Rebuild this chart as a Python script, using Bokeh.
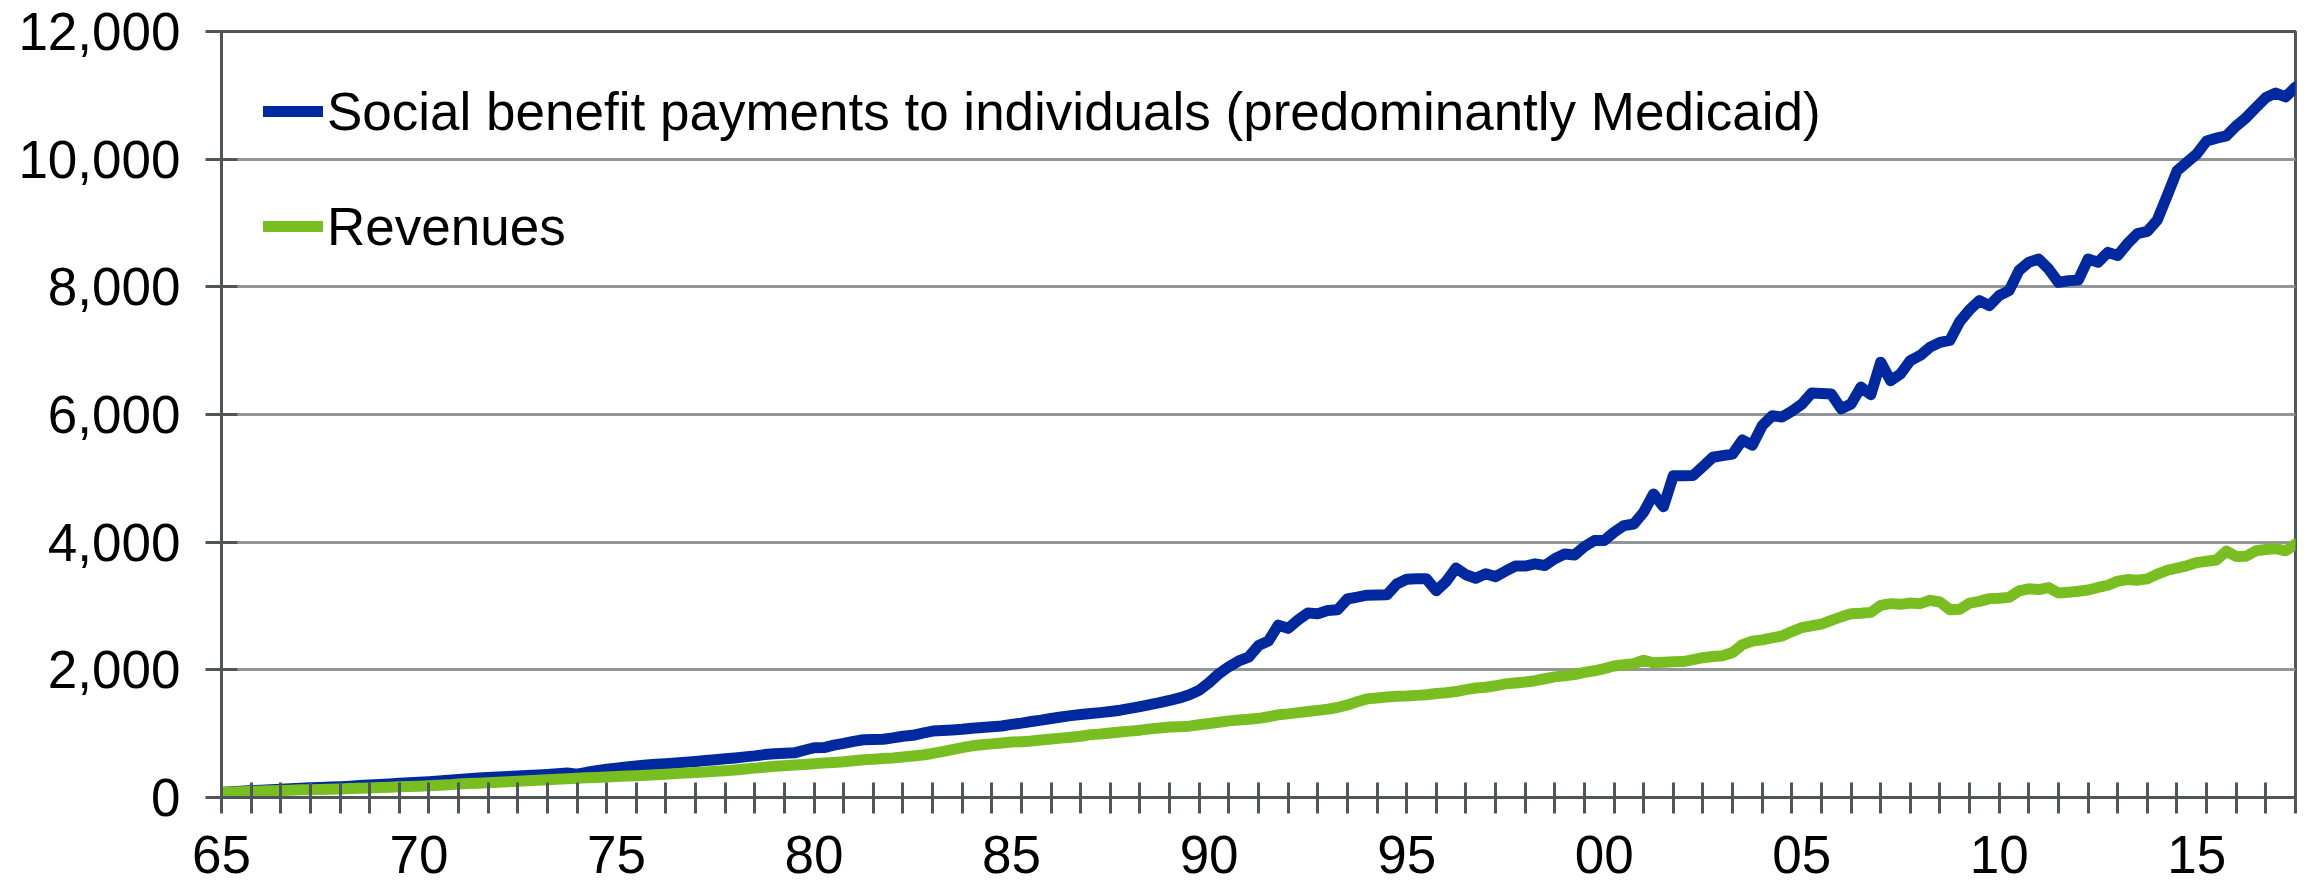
from bokeh.plotting import figure
from bokeh.models import Range1d, FixedTicker, NumeralTickFormatter, Legend, LegendItem
from bokeh.embed import file_html
from bokeh.resources import INLINE

# ---------------- data (quarterly, 1965Q1 .. 2017Q3) ----------------
start_year = 1965

social_benefits = [
    80, 90, 100, 108,          # 1965
    115, 122, 130, 137,        # 1966
    145, 152, 158, 164,        # 1967
    170, 178, 188, 196,        # 1968
    205, 212, 222, 230,        # 1969
    238, 248, 260, 272,        # 1970
    284, 294, 304, 313,        # 1971
    320, 330, 338, 345,        # 1972
    352, 362, 372, 384,        # 1973
    365, 395, 420, 442,        # 1974
    460, 478, 495, 508,        # 1975
    520, 530, 542, 552,        # 1976
    565, 578, 592, 606,        # 1977
    620, 636, 652, 672,        # 1978
    685, 692, 700, 740,        # 1979
    780, 782, 820, 848,        # 1980
    880, 905, 910, 912,        # 1981
    935, 960, 975, 1010,       # 1982
    1040, 1048, 1058, 1068,    # 1983
    1085, 1098, 1108, 1120,    # 1984
    1145, 1165, 1190, 1212,    # 1985
    1238, 1262, 1282, 1300,    # 1986
    1315, 1330, 1348, 1368,    # 1987
    1395, 1425, 1455, 1485,    # 1988
    1520, 1560, 1610, 1680,    # 1989
    1800, 1940, 2050, 2140,    # 1990
    2200, 2380, 2450, 2700,    # 1991
    2650, 2780, 2890, 2880,    # 1992
    2930, 2940, 3110, 3140,    # 1993
    3170, 3172, 3175, 3345,    # 1994
    3420, 3425, 3425, 3240,    # 1995
    3385, 3595, 3490, 3435,    # 1996
    3505, 3460, 3545, 3625,    # 1997
    3625, 3660, 3635, 3740,    # 1998
    3815, 3800, 3930, 4025,    # 1999
    4025, 4155, 4260, 4285,    # 2000
    4470, 4755, 4555, 5040,    # 2001
    5040, 5045, 5185, 5330,    # 2002
    5355, 5380, 5600, 5520,    # 2003
    5825, 5980, 5960, 6050,    # 2004
    6160, 6335, 6330, 6320,    # 2005
    6090, 6165, 6430, 6310,    # 2006
    6820, 6530, 6635, 6845,    # 2007
    6925, 7055, 7130, 7160,    # 2008
    7455, 7640, 7785, 7705,    # 2009
    7865, 7940, 8255, 8385,    # 2010
    8435, 8280, 8070, 8095,    # 2011
    8105, 8435, 8385, 8540,    # 2012
    8490, 8680, 8835, 8870,    # 2013
    9045, 9425, 9815, 9950,    # 2014
    10080, 10285, 10330, 10365,  # 2015
    10520, 10650, 10810, 10965,  # 2016
    11035, 10975, 11130,         # 2017
]

revenues = [
    84, 88, 92, 96,            # 1965
    100, 105, 110, 115,        # 1966
    120, 123, 126, 130,        # 1967
    135, 140, 146, 150,        # 1968
    156, 162, 168, 172,        # 1969
    178, 185, 192, 198,        # 1970
    210, 218, 225, 232,        # 1971
    240, 248, 255, 262,        # 1972
    270, 278, 285, 292,        # 1973
    300, 308, 315, 322,        # 1974
    328, 335, 342, 350,        # 1975
    358, 366, 374, 382,        # 1976
    390, 400, 410, 420,        # 1977
    432, 445, 460, 475,        # 1978
    488, 498, 508, 518,        # 1979
    530, 540, 550, 560,        # 1980
    575, 590, 600, 610,        # 1981
    620, 635, 650, 665,        # 1982
    690, 720, 750, 780,        # 1983
    810, 825, 840, 855,        # 1984
    868, 875, 885, 900,        # 1985
    915, 930, 945, 960,        # 1986
    985, 995, 1010, 1025,      # 1987
    1040, 1055, 1075, 1090,    # 1988
    1105, 1110, 1118, 1140,    # 1989
    1160, 1180, 1200, 1215,    # 1990
    1225, 1240, 1265, 1295,    # 1991
    1310, 1330, 1348, 1365,    # 1992
    1385, 1410, 1450, 1500,    # 1993
    1545, 1560, 1575, 1585,    # 1994
    1590, 1600, 1610, 1630,    # 1995
    1640, 1660, 1690, 1715,    # 1996
    1728, 1750, 1780, 1795,    # 1997
    1810, 1830, 1860, 1890,    # 1998
    1905, 1925, 1960, 1985,    # 1999
    2020, 2060, 2080, 2095,    # 2000
    2150, 2110, 2120, 2125,    # 2001
    2130, 2160, 2190, 2210,    # 2002
    2220, 2270, 2395, 2450,    # 2003
    2470, 2500, 2530, 2600,    # 2004
    2660, 2690, 2715, 2775,    # 2005
    2830, 2880, 2885, 2900,    # 2006
    3010, 3037, 3026, 3047,    # 2007
    3037, 3089, 3063, 2942,    # 2008
    2948, 3045, 3073, 3115,    # 2009
    3120, 3135, 3236, 3270,    # 2010
    3257, 3288, 3204, 3215,    # 2011
    3230, 3250, 3290, 3325,    # 2012
    3390, 3414, 3405, 3425,    # 2013
    3500, 3560, 3595, 3630,    # 2014
    3680, 3700, 3720, 3860,    # 2015
    3775, 3780, 3865, 3885,    # 2016
    3900, 3865, 3970,          # 2017
]

series_labels = ["Social benefit payments to individuals (predominantly Medicaid)", "Revenues"]
x_tick_years = [1965, 1970, 1975, 1980, 1985, 1990, 1995, 2000, 2005, 2010, 2015]
x_tick_labels = ["65", "70", "75", "80", "85", "90", "95", "00", "05", "10", "15"]
y_ticks = [0, 2000, 4000, 6000, 8000, 10000, 12000]

# ---------------- styling ----------------
FONT = "Liberation Sans"
FS = "53px"
AXIS_COL = "#50555a"
GRID_COL = "#939699"
BLUE = "#0029a0"
GREEN = "#78be21"

quarters = [start_year + q / 4 for q in range(len(social_benefits))]

p = figure(width=2308, height=884, output_backend="svg", toolbar_location=None,
           x_range=Range1d(1965, 2017.5), y_range=Range1d(0, 12000),
           min_border_left=221, min_border_right=13, min_border_top=31,
           min_border_bottom=87)
p.background_fill_color = "white"
p.border_fill_color = "white"
p.outline_line_color = AXIS_COL
p.outline_line_width = 3

# x axis
minor_positions = [1965 + 0.75 * k for k in range(71)]
p.xaxis.ticker = FixedTicker(ticks=x_tick_years, minor_ticks=minor_positions)
p.xaxis.major_label_overrides = {yr: lab for yr, lab in zip(x_tick_years, x_tick_labels)}
p.xaxis.major_tick_line_color = None
p.xaxis.major_tick_in = 0
p.xaxis.major_tick_out = 0
p.xaxis.minor_tick_in = 15
p.xaxis.minor_tick_out = 16
p.xaxis.minor_tick_line_color = AXIS_COL
p.xaxis.minor_tick_line_width = 3
p.xaxis.axis_line_color = AXIS_COL
p.xaxis.axis_line_width = 3
p.xaxis.major_label_standoff = 22
p.xaxis.major_label_text_font = FONT
p.xaxis.major_label_text_font_size = FS
p.xaxis.major_label_text_color = "black"

# y axis
p.yaxis.ticker = FixedTicker(ticks=y_ticks)
p.yaxis.formatter = NumeralTickFormatter(format="0,0")
p.yaxis.minor_tick_line_color = None
p.yaxis.major_tick_in = 16
p.yaxis.major_tick_out = 16
p.yaxis.major_tick_line_color = AXIS_COL
p.yaxis.major_tick_line_width = 3
p.yaxis.axis_line_color = AXIS_COL
p.yaxis.axis_line_width = 3
p.yaxis.major_label_standoff = 25
p.yaxis.major_label_text_font = FONT
p.yaxis.major_label_text_font_size = FS
p.yaxis.major_label_text_color = "black"

p.xgrid.grid_line_color = None
p.ygrid.grid_line_color = GRID_COL
p.ygrid.grid_line_width = 3

r_blue = p.line(quarters, social_benefits, line_color=BLUE, line_width=11,
                line_join="round", line_cap="round")
r_green = p.line(quarters, revenues, line_color=GREEN, line_width=11,
                 line_join="round", line_cap="round")

legend = Legend(items=[LegendItem(label=series_labels[0], renderers=[r_blue]),
                       LegendItem(label=series_labels[1], renderers=[r_green])],
                location=(42, 521))
legend.border_line_color = None
legend.background_fill_alpha = 0
legend.padding = 0
legend.margin = 0
legend.spacing = 15
legend.glyph_height = 100
legend.glyph_width = 60
legend.label_height = 100
legend.label_standoff = 4
legend.label_text_font = FONT
legend.label_text_font_size = FS
legend.label_text_color = "black"
p.add_layout(legend)

open("out.html", "w").write(file_html(p, INLINE, title="Social benefit payments vs revenues"))
